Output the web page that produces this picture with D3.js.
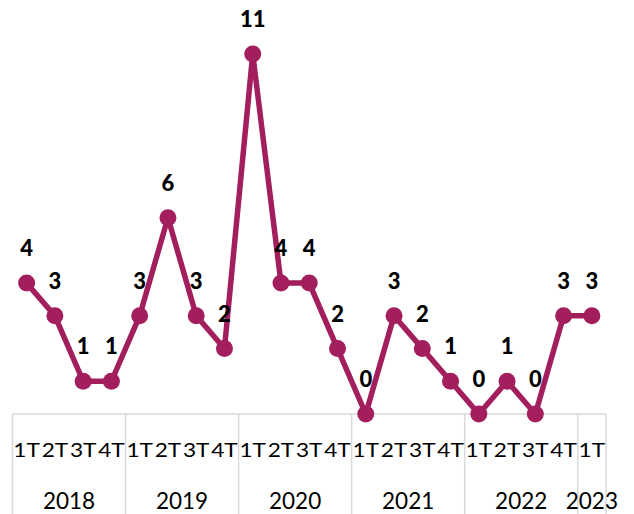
<!DOCTYPE html>
<html><head><meta charset="utf-8">
<script src="https://cdn.jsdelivr.net/npm/d3@7"></script>
<style>body{margin:0;background:#fff}svg{display:block}</style>
</head><body>
<svg id="c" width="634" height="514"></svg>
<script>
const years = ["2018","2019","2020","2021","2022","2023"];
const quartersPerYear = [4,4,4,4,4,1];
const quarterLabels = ["1T","2T","3T","4T"];
const values = [4,3,1,1, 3,6,3,2, 11,4,4,2, 0,3,2,1, 0,1,0,3, 3];

const cats = [];
years.forEach((y,i)=>{for(let q=0;q<quartersPerYear[i];q++) cats.push({year:y,q:quarterLabels[q],key:y+"-"+quarterLabels[q]});});
const data = cats.map((c,i)=>({...c,v:values[i]}));

const svg = d3.select("#c");
const x = d3.scaleBand().domain(cats.map(c=>c.key)).range([12.5,606]);
const y = d3.scaleLinear().domain([0,11]).range([414,54]);
const color = "#A21E5D";
const grid = "#d9d9d9";

// axis baseline
svg.append("line").attr("x1",x.range()[0]).attr("x2",x.range()[1]).attr("y1",y(0)).attr("y2",y(0))
  .attr("stroke",grid).attr("stroke-width",1.5);

// year separators
let idx=0;
const bounds=[x.range()[0]];
years.forEach((yr,i)=>{idx+=quartersPerYear[i]; bounds.push(i===years.length-1?x.range()[1]:x(cats[idx].key));});
bounds.forEach(b=>svg.append("line").attr("x1",b).attr("x2",b).attr("y1",y(0)).attr("y2",514).attr("stroke",grid).attr("stroke-width",1.5));

// quarter labels
svg.selectAll("text.q").data(cats).join("text").attr("class","q")
  .attr("x",d=>x(d.key)+x.bandwidth()/2).attr("y",457)
  .attr("text-anchor","middle").attr("font-family","Lato, 'Open Sans', sans-serif").attr("font-size",20)
  .attr("textLength",26.5).attr("lengthAdjust","spacingAndGlyphs")
  .attr("fill","#000").text(d=>d.q);

// year labels
years.forEach((yr,i)=>{
  const cx = (bounds[i]+bounds[i+1])/2;
  svg.append("text").attr("x",cx).attr("y",509).attr("text-anchor","middle")
    .attr("font-family","Lato, 'Open Sans', sans-serif").attr("font-size",22.5).attr("fill","#000").text(yr);
});

// line
const line = d3.line().x(d=>x(d.key)+x.bandwidth()/2).y(d=>y(d.v));
svg.append("path").datum(data).attr("d",line).attr("fill","none").attr("stroke",color)
  .attr("stroke-width",5.5).attr("stroke-linejoin","round");

svg.selectAll("circle").data(data).join("circle")
  .attr("cx",d=>x(d.key)+x.bandwidth()/2).attr("cy",d=>y(d.v)).attr("r",8.5).attr("fill",color);

svg.selectAll("text.v").data(data).join("text").attr("class","v")
  .attr("x",d=>x(d.key)+x.bandwidth()/2).attr("y",d=>y(d.v)-27)
  .attr("text-anchor","middle").attr("font-family","Lato, 'Open Sans', sans-serif")
  .attr("font-weight",900).attr("font-size",22).attr("fill","#000").text(d=>d.v);
</script>
</body></html>
